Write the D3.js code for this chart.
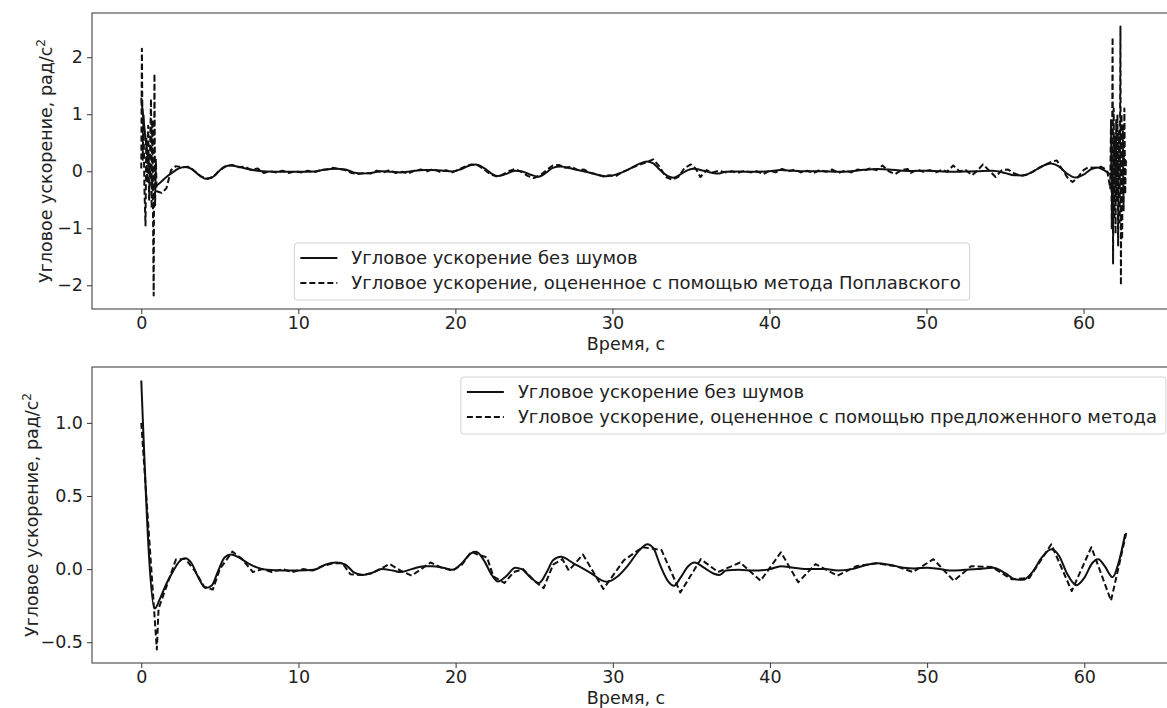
<!DOCTYPE html>
<html>
<head>
<meta charset="utf-8">
<script src="https://cdn.jsdelivr.net/npm/d3@7"></script>
<style>
    body { margin: 0; background: #fff; }
    text { font-family: "DejaVu Sans", sans-serif; fill: #222; }
</style>
</head>
<body>
<div id="chart"></div>
<script>
// values: [time, s ; angular acceleration, rad/s^2]

const timeTicks = [0, 10, 20, 30, 40, 50, 60];
const topYTicks = [-2, -1, 0, 1, 2];
const bottomYTicks = [-0.5, 0.0, 0.5, 1.0];

const trueAccel = [
    [0, 1.29], [0.85, -0.27], [1.2, -0.2], [1.6, -0.1], [2.0, -0.02], [2.4, 0.05], [2.8, 0.075],
    [3.2, 0.04], [3.6, -0.05], [4.1, -0.13], [4.5, -0.11], [4.9, -0.01], [5.3, 0.08], [5.7, 0.1],
    [6.2, 0.08], [6.8, 0.04], [7.4, 0.01], [8.0, -0.005], [9.0, -0.01], [10.0, -0.01], [11.0, -0.005],
    [11.7, 0.03], [12.4, 0.045], [13.0, 0.03], [13.5, -0.02], [14.1, -0.04], [14.7, -0.025], [15.3, 0.0],
    [16.0, -0.01], [16.5, -0.02], [17.2, 0.0], [18.0, 0.02], [18.5, 0.02], [19.2, 0.01], [19.8, -0.005],
    [20.4, 0.04], [21.0, 0.11], [21.3, 0.118], [21.8, 0.06], [22.3, -0.04], [22.7, -0.085], [23.2, -0.05],
    [23.8, 0.01], [24.2, 0.0], [24.8, -0.06], [25.3, -0.095], [25.8, -0.02], [26.2, 0.06], [26.7, 0.084],
    [27.5, 0.04], [28.5, -0.02], [29.6, -0.087], [30.3, -0.05], [31.0, 0.03], [31.7, 0.13], [32.2, 0.17],
    [32.6, 0.14], [33.0, 0.03], [33.5, -0.08], [33.9, -0.114], [34.3, -0.06], [34.8, 0.02], [35.2, 0.045],
    [35.8, 0.01], [36.4, -0.03], [36.8, -0.04], [37.2, -0.01], [38.0, -0.005], [39.0, -0.01], [40.0, 0.0],
    [40.7, 0.02], [41.5, 0.01], [42.5, 0.0], [43.5, 0.0], [44.3, -0.01], [45.2, 0.0], [46.0, 0.025],
    [46.8, 0.04], [47.6, 0.03], [48.5, 0.01], [49.2, 0.005], [50.0, 0.01], [50.8, 0.0], [51.6, -0.01],
    [52.4, -0.005], [53.2, 0.0], [54.2, 0.01], [55.0, -0.03], [55.6, -0.07], [56.1, -0.073], [56.7, -0.02],
    [57.3, 0.08], [57.9, 0.136], [58.4, 0.09], [58.9, -0.03], [59.5, -0.11], [60.0, -0.06], [60.5, 0.04],
    [60.9, 0.068], [61.3, 0.02], [61.8, -0.055], [62.2, 0.05], [62.6, 0.24]
];

const poplavskyAccel = [
    [0.00, 0.05], [0.04, 2.15], [0.09, 0.2], [0.14, 1.0], [0.2, -0.3], [0.27, -0.95], [0.32, 0.6],
    [0.38, -0.2], [0.44, 0.8], [0.5, -0.5], [0.56, 0.4], [0.62, 1.27], [0.66, -0.65], [0.7, 0.9],
    [0.74, -0.5], [0.79, -2.18], [0.84, 1.71], [0.88, -0.6], [0.93, 0.2], [0.98, -0.35],
    [1.3, -0.38], [1.6, -0.3], [1.9, 0.02], [2.2, 0.09], [2.6, 0.07], [3.0, 0.08], [3.4, 0.0],
    [3.8, -0.09], [4.2, -0.13], [4.6, -0.1], [5.0, 0.02], [5.4, 0.09], [5.8, 0.11], [6.2, 0.07],
    [6.6, 0.08], [7.0, 0.02], [7.4, 0.05], [7.8, -0.03], [8.2, 0.0], [8.6, -0.02], [9.0, 0.01],
    [9.4, -0.03], [9.8, 0.0], [10.2, -0.02], [10.6, 0.01], [11.0, -0.02], [11.4, 0.02], [11.8, 0.03],
    [12.2, 0.06], [12.6, 0.04], [13.0, 0.02], [13.4, -0.03], [13.8, -0.05], [14.2, -0.03], [14.6, -0.04],
    [15.0, 0.01], [15.4, -0.02], [15.8, 0.02], [16.2, -0.03], [16.6, -0.01], [17.0, -0.04], [17.4, 0.01],
    [17.8, 0.03], [18.2, 0.0], [18.6, 0.04], [19.0, -0.01], [19.4, 0.02], [19.8, -0.02], [20.2, 0.03],
    [20.6, 0.08], [21.0, 0.12], [21.4, 0.11], [21.8, 0.04], [22.2, -0.05], [22.6, -0.09], [23.0, -0.06],
    [23.4, 0.0], [23.8, 0.04], [24.2, -0.01], [24.6, -0.08], [25.0, -0.12], [25.4, -0.07], [25.8, 0.02],
    [26.2, 0.1], [26.6, 0.11], [27.0, 0.06], [27.4, 0.08], [27.8, 0.02], [28.2, 0.03], [28.6, -0.03],
    [29.0, -0.05], [29.4, -0.09], [29.8, -0.07], [30.2, -0.09], [30.6, -0.02], [31.0, 0.03], [31.4, 0.08],
    [31.8, 0.12], [32.2, 0.16], [32.6, 0.21], [33.0, 0.08], [33.4, -0.1], [33.8, -0.15], [34.2, -0.1],
    [34.6, 0.06], [35.0, 0.12], [35.3, 0.05], [35.6, -0.1], [36.0, 0.02], [36.4, -0.02], [36.8, 0.01],
    [37.2, -0.02], [37.6, 0.0], [38.0, -0.03], [38.4, 0.01], [38.8, -0.02], [39.2, 0.0], [39.6, -0.05],
    [40.0, 0.01], [40.4, -0.02], [40.8, 0.04], [41.2, 0.0], [41.6, 0.03], [42.0, -0.02], [42.4, 0.01],
    [42.8, -0.03], [43.2, 0.02], [43.6, -0.01], [44.0, 0.03], [44.4, -0.03], [44.8, 0.01], [45.2, -0.02],
    [45.6, 0.03], [46.0, 0.01], [46.4, 0.05], [46.8, 0.02], [47.2, 0.1], [47.6, 0.0], [48.0, -0.05],
    [48.4, 0.02], [48.8, 0.04], [49.0, -0.03], [49.4, 0.03], [49.8, -0.01], [50.2, 0.02], [50.6, -0.02],
    [51.0, 0.03], [51.3, -0.01], [51.7, 0.1], [52.1, 0.0], [52.5, 0.02], [52.9, -0.07], [53.2, 0.0],
    [53.6, 0.12], [54.0, 0.01], [54.4, -0.1], [54.8, 0.02], [55.2, 0.03], [55.6, -0.04], [56.0, -0.08],
    [56.4, -0.06], [56.8, 0.0], [57.2, 0.06], [57.6, 0.12], [58.0, 0.17], [58.3, 0.19], [58.6, 0.05],
    [59.0, -0.12], [59.3, -0.19], [59.6, -0.12], [60.0, 0.02], [60.3, 0.07], [60.7, 0.06], [61.1, 0.08],
    [61.5, 0.02], [61.7, -0.3], [61.75, 0.9], [61.8, -1.0], [61.85, 2.35], [61.88, -1.62], [61.92, 1.1],
    [61.96, -0.8], [62.0, 0.6], [62.04, -1.1], [62.08, 0.9], [62.12, -0.5], [62.16, 1.0], [62.2, -1.3],
    [62.25, 0.7], [62.3, -0.9], [62.35, 2.54], [62.38, -2.0], [62.42, 1.0], [62.46, -1.2], [62.5, 0.8],
    [62.55, -0.7], [62.6, 1.1], [62.65, -0.4], [62.7, 0.2], [62.75, 0.15]
];

const proposedAccel = [
    [0.0, 1.0], [0.99, -0.55], [1.1, -0.27], [1.6, -0.12], [2.2, 0.065], [2.8, 0.07], [3.4, -0.01],
    [4.0, -0.12], [4.55, -0.14], [5.0, 0.0], [5.8, 0.12], [6.4, 0.07], [7.1, -0.02], [7.7, 0.0],
    [8.3, -0.02], [9.0, 0.0], [9.6, -0.02], [10.3, 0.0], [10.9, -0.01], [11.5, 0.02], [12.2, 0.04],
    [12.8, 0.04], [13.3, -0.035], [14.0, -0.04], [14.6, -0.03], [15.2, 0.0], [15.8, 0.035], [16.5, -0.01],
    [17.2, -0.045], [17.8, 0.0], [18.4, 0.045], [19.1, 0.01], [19.8, -0.01], [20.4, 0.03], [21.0, 0.12],
    [21.4, 0.1], [22.0, 0.08], [22.4, -0.05], [23.1, -0.095], [23.7, -0.02], [24.3, 0.0], [25.0, -0.08],
    [25.6, -0.13], [26.2, 0.03], [26.8, 0.068], [27.2, -0.01], [28.1, 0.1], [29.4, -0.136], [30.7, 0.06],
    [31.9, 0.15], [33.1, 0.13], [34.3, -0.16], [35.6, 0.068], [36.7, -0.02], [38.1, 0.045], [39.4, -0.08],
    [40.7, 0.115], [41.8, -0.09], [42.9, 0.034], [44.3, -0.045], [45.5, 0.02], [46.8, 0.04], [48.0, 0.02],
    [49.1, -0.02], [50.4, 0.068], [51.7, -0.08], [52.8, 0.02], [54.1, 0.015], [55.4, -0.07], [56.5, -0.06],
    [57.9, 0.17], [59.2, -0.15], [60.45, 0.15], [61.7, -0.216], [62.7, 0.26]
];

const trueLabel = "Угловое ускорение без шумов";
const poplavskyLabel = "Угловое ускорение, оцененное с помощью метода Поплавского";
const proposedLabel = "Угловое ускорение, оцененное с помощью предложенного метода";
const xLabel = "Время, с";
const yLabel = "Угловое ускорение, рад/с";

const width = 1167;
const height = 708;
const fontSize = 17.5;
const legendFontSize = 18;
const lineWidth = 2;

const svg = d3.select("#chart")
    .append("svg")
    .attr("width", width)
    .attr("height", height)
    .style("display", "block");

svg.append("rect").attr("width", width).attr("height", height).attr("fill", "#fff");

/**
 * Draws one subplot (matplotlib-like axes) with a solid and a dashed series.
 * @param {object} opt - placement, ticks, series, legend placement
 */
function panel(opt) {
    const g = svg.append("g");
    const all = opt.series.flatMap(s => s.data);

    // matplotlib default 5% margins
    const xExt = d3.extent(all, d => d[0]);
    const yExt = d3.extent(all, d => d[1]);
    const xPad = (xExt[1] - xExt[0]) * 0.05;
    const yPad = (yExt[1] - yExt[0]) * 0.05;

    const x = d3.scaleLinear().domain([xExt[0] - xPad, xExt[1] + xPad]).range([opt.left, opt.right]);
    const y = d3.scaleLinear().domain([yExt[0] - yPad, yExt[1] + yPad]).range([opt.bottom, opt.top]);

    const clipId = "clip" + opt.id;
    g.append("clipPath").attr("id", clipId)
        .append("rect")
        .attr("x", opt.left).attr("y", opt.top)
        .attr("width", opt.right - opt.left).attr("height", opt.bottom - opt.top);

    const plot = g.append("g").attr("clip-path", `url(#${clipId})`);
    opt.series.forEach(s => {
        const line = d3.line()
            .x(d => x(d[0]))
            .y(d => y(d[1]))
            .curve(s.dashed ? d3.curveLinear : d3.curveMonotoneX);
        plot.append("path")
            .datum(s.data)
            .attr("d", line)
            .attr("fill", "none")
            .attr("stroke", "#111")
            .attr("stroke-width", lineWidth)
            .attr("stroke-linejoin", "round")
            .attr("stroke-dasharray", s.dashed ? "6,3" : null);
    });

    // frame
    g.append("rect")
        .attr("x", opt.left).attr("y", opt.top)
        .attr("width", opt.right - opt.left).attr("height", opt.bottom - opt.top)
        .attr("fill", "none")
        .attr("stroke", "#333")
        .attr("stroke-width", 1);

    const xAxis = g.append("g")
        .attr("transform", `translate(0,${opt.bottom})`)
        .call(d3.axisBottom(x).tickValues(timeTicks).tickSize(5).tickPadding(3));
    const yAxis = g.append("g")
        .attr("transform", `translate(${opt.left},0)`)
        .call(d3.axisLeft(y).tickValues(opt.yTicks).tickFormat(opt.yFormat).tickSize(5).tickPadding(4));

    [xAxis, yAxis].forEach(a => {
        a.select(".domain").remove();
        a.selectAll("line").attr("stroke", "#333");
        a.selectAll("text")
            .attr("font-family", "DejaVu Sans")
            .attr("font-size", fontSize)
            .attr("fill", "#222");
    });

    g.append("text")
        .attr("x", (opt.left + opt.right) / 2 - 8)
        .attr("y", opt.bottom + 41)
        .attr("text-anchor", "middle")
        .attr("font-size", fontSize)
        .text(xLabel);

    const yl = g.append("text")
        .attr("transform", `translate(${opt.yLabelX},${(opt.top + opt.bottom) / 2}) rotate(-90)`)
        .attr("text-anchor", "middle")
        .attr("font-size", fontSize)
        .text(yLabel);
    yl.append("tspan").attr("dy", -7).attr("font-size", 12).text("2");

    legend(g, opt);
}

/**
 * Legend box with a sample line per series; placed centred at the bottom or in the top right corner.
 */
function legend(g, opt) {
    const lg = g.append("g");
    const handle = 37, gap = 14, padX = 6, rowH = 25;

    const box = lg.append("rect")
        .attr("rx", 3)
        .attr("fill", "#fff")
        .attr("fill-opacity", 0.85)
        .attr("stroke", "#d4d4d4");

    let textW = 0;
    opt.series.forEach((s, i) => {
        const cy = 15 + i * rowH;
        lg.append("line")
            .attr("x1", padX).attr("x2", padX + handle)
            .attr("y1", cy).attr("y2", cy)
            .attr("stroke", "#111")
            .attr("stroke-width", lineWidth)
            .attr("stroke-dasharray", s.dashed ? "6,3" : null);
        const t = lg.append("text")
            .attr("x", padX + handle + gap)
            .attr("y", cy)
            .attr("dy", "0.35em")
            .attr("font-size", legendFontSize)
            .text(s.label);
        textW = Math.max(textW, t.node().getComputedTextLength());
    });

    const w = padX + handle + gap + textW + 9;
    const h = 15 + rowH * (opt.series.length - 1) + 17;
    box.attr("width", w).attr("height", h);

    let lx, ly;
    if (opt.legendLoc === "lower center") {
        lx = (opt.left + opt.right) / 2 - w / 2 - 2;
        ly = opt.bottom - 9 - h;
    } else {
        lx = opt.right - 10 - w;
        ly = opt.top + 10;
    }
    lg.attr("transform", `translate(${lx},${ly})`);
}

panel({
    id: "top",
    left: 92, right: 1176, top: 13, bottom: 309,
    yTicks: topYTicks,
    yFormat: d3.format("d"),
    yLabelX: 52,
    legendLoc: "lower center",
    series: [
        { data: trueAccel, dashed: false, label: trueLabel },
        { data: poplavskyAccel, dashed: true, label: poplavskyLabel }
    ]
});

panel({
    id: "bottom",
    left: 92, right: 1176, top: 367, bottom: 663,
    yTicks: bottomYTicks,
    yFormat: d3.format(".1f"),
    yLabelX: 38,
    legendLoc: "upper right",
    series: [
        { data: trueAccel, dashed: false, label: trueLabel },
        { data: proposedAccel, dashed: true, label: proposedLabel }
    ]
});
</script>
</body>
</html>
